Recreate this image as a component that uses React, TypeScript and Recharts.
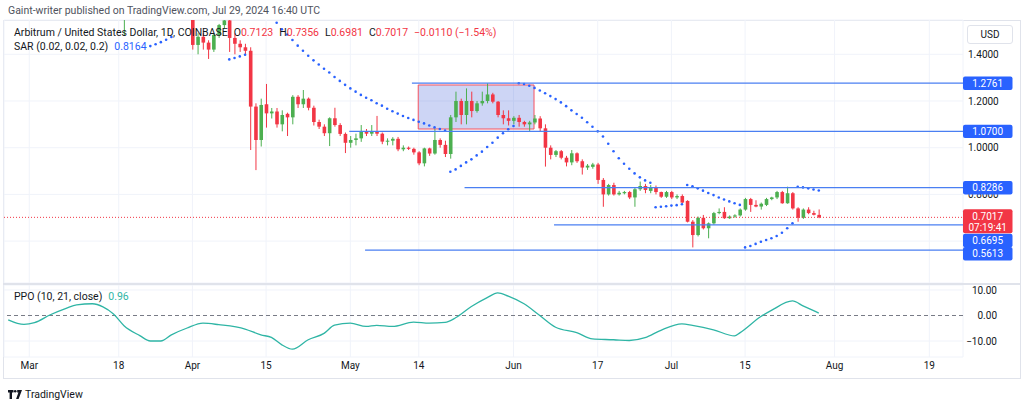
import React from 'react';
import {
  ComposedChart, Bar, Line, XAxis, YAxis, CartesianGrid, ReferenceLine, ReferenceArea,
} from 'recharts';

// ARB/USD daily, Coinbase. Day 0 = 1 Mar 2024, first candle = 26 Feb.
const FIRST_DAY = -4;

const opens = [
  1.88, 1.93, 1.98, 1.95,
  1.98, 2.05, 2.04, 2.02, 2.08, 1.92, 2.02, 2.0, 2.07, 2.09,
  2.05, 2.1, 2.08, 1.98, 1.86, 1.8, 1.74, 1.66, 1.56, 1.62,
  1.7, 1.74, 1.72, 1.69, 1.72, 1.78, 1.76, 1.74, 1.68, 1.66,
  1.65, 1.62, 1.44, 1.475, 1.45, 1.42, 1.483, 1.525, 1.545, 1.47,
  1.445, 1.43, 1.415, 1.176, 1.033, 1.186, 1.147, 1.155, 1.1, 1.145,
  1.13, 1.218, 1.186, 1.21, 1.171, 1.11, 1.09, 1.062, 1.126, 1.097,
  1.059, 1.021, 1.033, 1.04, 1.071, 1.06, 1.07, 1.06, 1.026, 1.03,
  1.038, 0.993, 1.0, 0.995, 0.98, 0.933, 0.997, 0.975, 1.033, 1.012,
  0.973, 1.13, 1.2, 1.14, 1.2, 1.157, 1.19, 1.2, 1.228, 1.197,
  1.14, 1.126, 1.115, 1.128, 1.11, 1.1, 1.108, 1.125, 1.083, 1.0,
  0.969, 0.985, 0.957, 0.937, 0.976, 0.942, 0.915, 0.918, 0.928, 0.862,
  0.8, 0.84, 0.8, 0.805, 0.81, 0.787, 0.822, 0.836, 0.815, 0.83,
  0.81, 0.79, 0.81, 0.787, 0.793, 0.772, 0.683, 0.626, 0.7, 0.655,
  0.676, 0.72, 0.725, 0.698, 0.705, 0.71, 0.735, 0.78, 0.755, 0.748,
  0.755, 0.78, 0.787, 0.81, 0.762, 0.805, 0.74, 0.7, 0.735, 0.72,
  0.7123,
];

const highs = [
  1.95, 2.02, 2.05, 2.05,
  2.08, 2.1, 2.06, 2.1, 2.15, 2.05, 2.08, 2.1, 2.12, 2.12,
  2.14, 2.18, 2.12, 2.0, 1.92, 1.84, 1.78, 1.7, 1.66, 1.72,
  1.78, 1.8, 1.76, 1.74, 1.8, 1.84, 1.8, 1.76, 1.72, 1.7,
  1.68, 1.64, 1.49, 1.49, 1.46, 1.49, 1.53, 1.57, 1.56, 1.49,
  1.46, 1.445, 1.43, 1.19, 1.21, 1.273, 1.17, 1.17, 1.16, 1.15,
  1.225, 1.225, 1.247, 1.215, 1.18, 1.12, 1.1, 1.13, 1.171, 1.105,
  1.065, 1.05, 1.06, 1.097, 1.08, 1.097, 1.136, 1.065, 1.04, 1.045,
  1.046, 1.01, 1.005, 1.0, 0.985, 1.0, 1.0, 1.08, 1.04, 1.03,
  1.14, 1.24, 1.21, 1.254, 1.24, 1.2, 1.24, 1.2761, 1.235, 1.2,
  1.16, 1.16, 1.135, 1.14, 1.115, 1.115, 1.14, 1.135, 1.1, 1.01,
  0.99, 0.99, 0.965, 0.99, 0.98, 0.95, 0.93, 0.935, 0.935, 0.87,
  0.845, 0.85, 0.815, 0.815, 0.815, 0.83, 0.855, 0.845, 0.84, 0.838,
  0.812, 0.815, 0.815, 0.8, 0.8, 0.775, 0.69, 0.705, 0.712, 0.68,
  0.725, 0.74, 0.745, 0.71, 0.715, 0.74, 0.785, 0.785, 0.775, 0.765,
  0.785, 0.79, 0.815, 0.815, 0.833, 0.81, 0.745, 0.74, 0.745, 0.73,
  0.7356,
];

const lows = [
  1.85, 1.9, 1.86, 1.9,
  1.96, 2.0, 1.98, 1.98, 1.75, 1.88, 1.96, 1.98, 2.03, 2.02,
  2.0, 2.02, 1.95, 1.8, 1.72, 1.68, 1.62, 1.55, 1.48, 1.58,
  1.66, 1.68, 1.65, 1.63, 1.7, 1.74, 1.7, 1.64, 1.62, 1.62,
  1.6, 1.42, 1.4, 1.42, 1.38, 1.41, 1.47, 1.51, 1.41, 1.4,
  1.41, 1.4, 0.99, 0.904, 1.005, 1.086, 1.125, 1.086, 1.07, 1.05,
  1.1, 1.17, 1.17, 1.16, 1.095, 1.08, 1.05, 1.007, 1.09, 1.05,
  0.977, 1.0, 1.01, 1.025, 1.05, 1.05, 1.05, 1.015, 1.01, 1.01,
  0.985, 0.985, 0.99, 0.97, 0.925, 0.92, 0.965, 0.97, 1.0, 0.96,
  0.953, 1.11, 1.1, 1.1, 1.13, 1.15, 1.18, 1.19, 1.19, 1.13,
  1.1, 1.095, 1.1, 1.09, 1.09, 1.071, 1.1, 1.07, 0.919, 0.95,
  0.96, 0.95, 0.92, 0.925, 0.935, 0.885, 0.905, 0.91, 0.845, 0.747,
  0.795, 0.795, 0.795, 0.8, 0.78, 0.747, 0.815, 0.805, 0.805, 0.8,
  0.785, 0.785, 0.78, 0.78, 0.76, 0.68, 0.573, 0.62, 0.65, 0.612,
  0.67, 0.715, 0.695, 0.695, 0.7, 0.705, 0.73, 0.725, 0.745, 0.735,
  0.75, 0.775, 0.78, 0.76, 0.76, 0.735, 0.683, 0.695, 0.715, 0.71,
  0.6981,
];

const closes = [
  1.93, 1.98, 1.95, 1.98,
  2.05, 2.04, 2.02, 2.08, 1.92, 2.02, 2.0, 2.07, 2.09, 2.05,
  2.1, 2.08, 1.98, 1.86, 1.8, 1.74, 1.66, 1.58, 1.62, 1.7,
  1.74, 1.72, 1.69, 1.72, 1.78, 1.76, 1.74, 1.68, 1.66, 1.65,
  1.62, 1.44, 1.475, 1.45, 1.42, 1.483, 1.525, 1.545, 1.47, 1.445,
  1.43, 1.415, 1.176, 1.033, 1.183, 1.147, 1.155, 1.1, 1.14, 1.13,
  1.218, 1.186, 1.21, 1.171, 1.11, 1.09, 1.062, 1.126, 1.097, 1.059,
  1.021, 1.033, 1.04, 1.071, 1.06, 1.07, 1.06, 1.026, 1.03, 1.038,
  0.993, 1.0, 0.995, 0.98, 0.933, 0.997, 0.975, 1.033, 1.012, 0.973,
  1.13, 1.2, 1.14, 1.2, 1.157, 1.19, 1.2, 1.228, 1.197, 1.14,
  1.126, 1.115, 1.128, 1.11, 1.1, 1.108, 1.125, 1.083, 1.0, 0.969,
  0.985, 0.957, 0.937, 0.976, 0.942, 0.915, 0.923, 0.928, 0.862, 0.8,
  0.84, 0.8, 0.807, 0.81, 0.787, 0.822, 0.836, 0.819, 0.83, 0.81,
  0.79, 0.81, 0.787, 0.793, 0.765, 0.683, 0.626, 0.7, 0.655, 0.676,
  0.72, 0.725, 0.698, 0.705, 0.71, 0.735, 0.78, 0.755, 0.748, 0.76,
  0.78, 0.787, 0.81, 0.762, 0.805, 0.74, 0.7, 0.735, 0.72, 0.7127,
  0.7017,
];

const _ = null;
// Parabolic SAR (0.02, 0.02, 0.2), only the dots that are on screen
const sar = [
  _, _, _, _,
  _, _, _, _, _, _, _, _, _, _,
  _, _, _, _, _, _, _, _, _, _,
  _, _, _, 1.435, 1.443, 1.452, 1.462, 1.474, _, _,
  _, _, _, _, _, _, _, _, 1.378, 1.384,
  1.391, 1.398, _, _, _, _, _, 1.535, 1.507, 1.485,
  1.461, 1.437, 1.415, 1.394, 1.374, 1.356, 1.338, 1.322, 1.303, 1.286,
  1.269, 1.254, 1.24, 1.226, 1.214, 1.203, 1.19, 1.18, 1.167, 1.156,
  1.146, 1.136, 1.127, 1.119, 1.111, 1.104, 1.095, 1.087, 1.08, 1.073,
  0.897, 0.907, 0.922, 0.937, 0.95, 0.967, 0.983, 1.003, 1.021, 1.043,
  1.062, 1.079, 1.093, 1.276, 1.273, 1.265, 1.256, 1.245, 1.233, 1.221,
  1.208, 1.194, 1.178, 1.16, 1.144, 1.128, 1.109, 1.09, 1.07, 1.048,
  1.017, 0.985, 0.955, 0.931, 0.91, 0.89, 0.873, 0.86, 0.85, 0.745,
  0.747, 0.749, 0.752, 0.754, 0.758, 0.84, 0.835, 0.826, 0.816, 0.806,
  0.797, 0.787, 0.778, 0.77, 0.762, 0.755, 0.573, 0.579, 0.588, 0.597,
  0.605, 0.612, 0.622, 0.636, 0.655, 0.676, 0.833, 0.83, 0.826, 0.821,
  0.8164,
];

// PPO (10, 21, close)
const ppoDays = [
  -4, -1, 1, 4, 7, 9, 12, 14, 16, 18, 21, 23, 25, 27, 30, 33, 36, 41, 44, 46,
  48, 50, 53, 56, 58, 61, 64, 66, 69, 73, 76, 79, 81, 84, 87, 89, 91, 94, 97, 100,
  104, 107, 111, 114, 117, 120, 124, 126, 130, 134, 135, 139, 141, 145, 147, 150,
];
const ppoValues = [
  -1.7, -3.5, -2.8, 0.3, 2.8, 4.2, 4.6, 3.4, 0.6, -4.0, -7.9, -10.0, -10.0, -7.6, -4.9, -3.0, -3.6, -5.3, -7.6, -8.6,
  -11.5, -13.2, -9.5, -7.0, -3.8, -3.0, -4.3, -3.9, -4.3, -2.6, -3.0, -2.7, -0.9, 3.5, 7.0, 8.9, 7.6, 4.6, 0.0, -4.6,
  -6.7, -9.2, -9.5, -9.8, -8.7, -5.8, -3.3, -3.9, -5.6, -8.0, -6.8, -0.4, 2.0, 5.7, 3.8, 0.96,
];

const dayTicks = [0, 17, 31, 45, 61, 74, 92, 108, 122, 136, 153, 171];
const dayTickLabels = ['Mar', '18', 'Apr', '15', 'May', '14', 'Jun', '17', 'Jul', '15', 'Aug', '19'];
const dayDomain = [-4.8, 177.4];

const priceTicks = [0.6, 0.8, 1.0, 1.2, 1.4];
const hiddenPriceTicks = [0.6]; // covered by the price tags on TradingView
const priceDomain = [0.4206, 1.5468];
const ppoTicks = [-10, 0, 10];
const ppoDomain = [-16.27, 11.96];

// horizontal support / resistance lines drawn by the author
const levelPrices = [1.2761, 1.07, 0.8286, 0.6695, 0.5613];
const levelStartDays = [72.7, 60.8, 82.7, 99.7, 63.8];
const boxDays = [73.9, 95.9];
const boxPrices = [1.08, 1.2685];
const countdown = '07:19:41';

const GREEN = '#4caf50';
const RED = '#f23645';
const BLUE = '#2962ff';
const LINE_BLUE = '#4a7ff2';
const TEAL = '#2fb5a5';
const GRID = '#f0f3fa';
const TEXT = '#131722';
const FONT = 'Roboto, "Liberation Sans", sans-serif';

const candles = opens.map((o, i) => ({
  day: FIRST_DAY + i,
  open: o,
  high: highs[i],
  low: lows[i],
  close: closes[i],
  range: [lows[i], highs[i]],
  sar: sar[i],
}));

const ppoRows = ppoDays.map((d, i) => ({ day: d, ppo: ppoValues[i] }));

const last = candles[candles.length - 1];
const prevClose = closes[closes.length - 2];
const change = last.close - prevClose;
const changePct = (change / prevClose) * 100;
const signed = (v: number, digits: number) => (v < 0 ? '\u2212' : '') + Math.abs(v).toFixed(digits);

function Candle(props: any) {
  const { x, y, width, height, payload } = props;
  if (x == null || y == null || !payload) return null;
  const top = Math.min(y, y + height);
  const span = Math.abs(height);
  const { open, close, high, low } = payload;
  const toY = (p: number) => (high === low ? top : top + ((high - p) / (high - low)) * span);
  const color = close >= open ? GREEN : RED;
  const cx = x + width / 2;
  const bTop = toY(Math.max(open, close));
  const bBot = toY(Math.min(open, close));
  const bw = 3.6;
  return (
    <g>
      <line x1={cx} x2={cx} y1={top} y2={top + span} stroke={color} strokeWidth={1} />
      <rect x={cx - bw / 2} y={bTop} width={bw} height={Math.max(1, bBot - bTop)} fill={color} />
    </g>
  );
}

function PriceTag(props: any) {
  const { viewBox, lines, fill, shift = 0 } = props;
  if (!viewBox) return null;
  const x = viewBox.x + viewBox.width;
  const cy = viewBox.y + shift;
  const h = lines.length > 1 ? 24 : 13.4;
  const top = lines.length > 1 ? cy - 8 : cy - h / 2;
  return (
    <g>
      <rect x={x} y={top} width={49.5} height={h} rx={2} fill={fill} />
      {lines.map((t: string, i: number) => (
        <text
          key={i}
          x={x + 24.7}
          y={top + 6.9 + i * 11}
          textAnchor="middle"
          dominantBaseline="central"
          fontSize={10}
          fontFamily={FONT}
          fill="#ffffff"
        >
          {t}
        </text>
      ))}
    </g>
  );
}

// label nudges so the tags stack like on TradingView
const tagShift = [0, 0, 0, 15.6, 3.6];

function TvLogo() {
  return (
    <svg width={14} height={9} viewBox="0 0 14 9" style={{ display: 'block' }}>
      <path d="M0 0h5.5v2.4H4v6.6H1.6V2.4H0z" fill={TEXT} />
      <circle cx={7.2} cy={1.3} r={1.3} fill={TEXT} />
      <path d="M9.2 0H14L10.6 9H8.1L10.4 2.4H9.2z" fill={TEXT} />
    </svg>
  );
}

export default function App() {
  const lastStr = last.close.toFixed(4);
  return (
    <div
      style={{
        position: 'absolute', left: 0, top: 0, width: 1024, height: 406,
        background: '#ffffff', fontFamily: FONT, overflow: 'hidden',
      }}
    >
      <div style={{ position: 'absolute', left: 8, top: 4, fontSize: 10.5, color: '#50535e', whiteSpace: 'nowrap' }}>
        Gaint-writer published on TradingView.com, Jul 29, 2024 16:40 UTC
      </div>

      <div
        style={{
          position: 'absolute', left: 3, top: 20, width: 1018, height: 359,
          border: '1px solid #e0e3eb', boxSizing: 'border-box',
        }}
      />

      {/* price pane */}
      <div style={{ position: 'absolute', left: 0, top: 0 }}>
        <ComposedChart
          width={1024}
          height={283}
          data={candles}
          margin={{ top: 20, right: 0, bottom: 0, left: 4 }}
        >
          <CartesianGrid stroke={GRID} horizontal vertical />
          <XAxis
            dataKey="day"
            type="number"
            domain={dayDomain}
            ticks={dayTicks}
            allowDataOverflow
            hide
          />
          <YAxis
            orientation="right"
            type="number"
            width={61}
            domain={priceDomain}
            ticks={priceTicks}
            allowDataOverflow
            axisLine={false}
            tickLine={false}
            tickSize={0}
            tickMargin={5}
            tickFormatter={(v: number) => (hiddenPriceTicks.includes(v) ? '' : v.toFixed(4))}
            tick={{ fontSize: 10, fill: TEXT, fontFamily: FONT }}
          />
          <ReferenceArea
            x1={boxDays[0]}
            x2={boxDays[1]}
            y1={boxPrices[0]}
            y2={boxPrices[1]}
            fill="#2f4fd6"
            fillOpacity={0.24}
            stroke="#f7525f"
            strokeWidth={1}
          />
          <Bar dataKey="range" barSize={4} isAnimationActive={false} shape={(p: any) => <Candle {...p} />} />
          <Line
            dataKey="sar"
            stroke="none"
            strokeWidth={0}
            dot={{ r: 1.3, fill: BLUE, stroke: 'none' }}
            activeDot={false}
            isAnimationActive={false}
          />
        </ComposedChart>
      </div>

      {/* drawings + price tags, on top of the axis text */}
      <div style={{ position: 'absolute', left: 0, top: 0, pointerEvents: 'none' }}>
        <ComposedChart
          width={1024}
          height={283}
          data={candles}
          margin={{ top: 20, right: 61, bottom: 0, left: 4 }}
        >
          <XAxis dataKey="day" type="number" domain={dayDomain} allowDataOverflow hide />
          <YAxis type="number" domain={priceDomain} allowDataOverflow hide />
          {levelPrices.map((p, i) => (
            <ReferenceLine
              key={p}
              segment={[{ x: levelStartDays[i], y: p }, { x: dayDomain[1], y: p }]}
              stroke={LINE_BLUE}
              strokeWidth={1.2}
              label={<PriceTag lines={[p.toFixed(4)]} fill={BLUE} shift={tagShift[i]} />}
            />
          ))}
          <ReferenceLine
            segment={[{ x: dayDomain[0], y: last.close }, { x: dayDomain[1], y: last.close }]}
            stroke={RED}
            strokeDasharray="1 2"
            strokeWidth={1}
            label={<PriceTag lines={[lastStr, countdown]} fill={RED} />}
          />
        </ComposedChart>
      </div>

      <div style={{ position: 'absolute', left: 3, top: 283, width: 1018, height: 2, background: '#e0e3eb' }} />

      {/* PPO pane */}
      <div style={{ position: 'absolute', left: 0, top: 285 }}>
        <ComposedChart
          width={1024}
          height={93}
          data={ppoRows}
          margin={{ top: 0, right: 0, bottom: 0, left: 4 }}
        >
          <CartesianGrid stroke={GRID} horizontal vertical />
          <XAxis
            dataKey="day"
            type="number"
            domain={dayDomain}
            ticks={dayTicks}
            interval={0}
            height={21}
            axisLine={false}
            tickLine={false}
            tickSize={0}
            tickMargin={5}
            tickFormatter={(v: number) => dayTickLabels[dayTicks.indexOf(v)]}
            tick={{ fontSize: 10, fill: TEXT, fontFamily: FONT }}
          />
          <YAxis
            orientation="right"
            type="number"
            width={61}
            domain={ppoDomain}
            ticks={ppoTicks}
            allowDataOverflow
            axisLine={false}
            tickLine={false}
            tickSize={0}
            tickMargin={34}
            tickFormatter={(v: number) => signed(v, 2)}
            tick={{ fontSize: 10, fill: TEXT, fontFamily: FONT, textAnchor: 'end' }}
          />
          <ReferenceLine y={0} stroke="#787b86" strokeDasharray="4 3" strokeWidth={1} />
          <Line
            dataKey="ppo"
            type="monotone"
            stroke={TEAL}
            strokeWidth={1.3}
            dot={false}
            activeDot={false}
            isAnimationActive={false}
          />
        </ComposedChart>
      </div>

      {/* legends */}
      <div style={{ position: 'absolute', left: 14, top: 27, fontSize: 10.5, color: TEXT, whiteSpace: 'nowrap', lineHeight: '12px' }}>
        <span>Arbitrum / United States Dollar, 1D, COINBASE</span>
        <span style={{ marginLeft: 6 }}>O</span><span style={{ color: RED }}>{last.open.toFixed(4)}</span>
        <span style={{ marginLeft: 6 }}>H</span><span style={{ color: RED }}>{last.high.toFixed(4)}</span>
        <span style={{ marginLeft: 6 }}>L</span><span style={{ color: RED }}>{last.low.toFixed(4)}</span>
        <span style={{ marginLeft: 6 }}>C</span><span style={{ color: RED }}>{lastStr}</span>
        <span style={{ marginLeft: 6, color: RED }}>
          {signed(change, 4)} ({signed(changePct, 2)}%)
        </span>
      </div>
      <div style={{ position: 'absolute', left: 14, top: 41, fontSize: 10.5, color: TEXT, whiteSpace: 'nowrap', lineHeight: '12px' }}>
        <span>SAR (0.02, 0.02, 0.2)</span>
        <span style={{ marginLeft: 6, color: BLUE }}>{last.sar?.toFixed(4)}</span>
      </div>
      <div style={{ position: 'absolute', left: 14, top: 291, fontSize: 10.5, color: TEXT, whiteSpace: 'nowrap', lineHeight: '12px' }}>
        <span>PPO (10, 21, close)</span>
        <span style={{ marginLeft: 6, color: TEAL }}>{ppoValues[ppoValues.length - 1].toFixed(2)}</span>
      </div>

      <div
        style={{
          position: 'absolute', left: 967, top: 25, width: 46, height: 19, boxSizing: 'border-box',
          border: '1px solid #e0e3eb', borderRadius: 3, fontSize: 10, color: TEXT,
          display: 'flex', alignItems: 'center', justifyContent: 'center',
        }}
      >
        USD
      </div>

      <div style={{ position: 'absolute', left: 8, top: 388, display: 'flex', alignItems: 'center', gap: 3 }}>
        <TvLogo />
        <span style={{ fontSize: 10.5, color: TEXT }}>TradingView</span>
      </div>
    </div>
  );
}
